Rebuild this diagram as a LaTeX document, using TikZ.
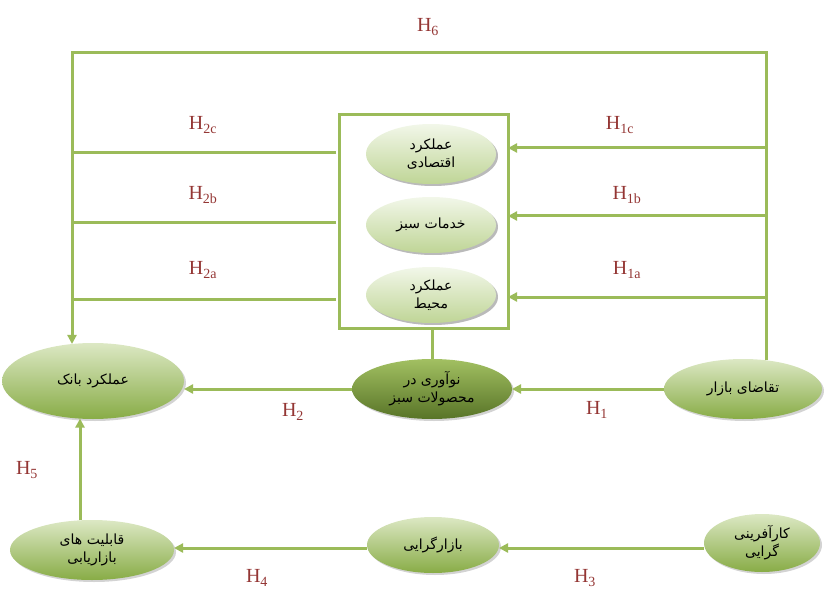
\documentclass[tikz,border=0pt]{standalone}
\usepackage{fontspec}
\setmainfont{Liberation Serif}
\newfontfamily\fa[Script=Arabic]{DejaVu Sans}
\TeXXeTstate=1
\usetikzlibrary{shapes.geometric,shadows,arrows.meta}

\definecolor{linkgreen}{HTML}{9BBB59}
\definecolor{hypred}{HTML}{943634}
\definecolor{ovtop}{HTML}{DCE8C4}
\definecolor{ovmid}{HTML}{B5CF82}
\definecolor{ovbot}{HTML}{88AC46}
\definecolor{dktop}{HTML}{A2C062}
\definecolor{dkmid}{HTML}{82A243}
\definecolor{dkbot}{HTML}{587427}
\definecolor{ltop}{HTML}{F2F7E9}
\definecolor{lmid}{HTML}{DEEAC8}
\definecolor{lbot}{HTML}{BFD596}

\tikzset{
  link/.style={draw=linkgreen, line width=3pt, line join=miter},
  arr/.style={link, -{Triangle[length=9pt,width=9pt]}},
  oval/.style={ellipse, inner sep=0pt, outer sep=0pt, align=center,
    top color=ovtop, middle color=ovmid, bottom color=ovbot,
    drop shadow={opacity=0.35, shadow xshift=2pt, shadow yshift=-2pt},
    font=\fa\fontsize{14}{18}\selectfont},
  darkoval/.style={oval, top color=dktop, middle color=dkmid, bottom color=dkbot},
  lightoval/.style={oval, top color=ltop, middle color=lmid, bottom color=lbot,
    drop shadow={opacity=0.3, shadow xshift=2pt, shadow yshift=-2pt}},
  hyp/.style={text=hypred, inner sep=0pt, font=\fontsize{20}{22}\selectfont},
  group/.style={draw=linkgreen, line width=3pt, inner sep=0pt, outer sep=0pt}
}

\begin{document}
\begin{tikzpicture}[x=1pt,y=1pt]
\useasboundingbox (0,0) rectangle (824,590);

% grouping box with the three green performance dimensions
\node[group, minimum width=169pt, minimum height=213pt] (box) at (423.5,368.5) {};
\node[lightoval, minimum width=130pt, minimum height=60pt] (econ) at (431,436)
  {\beginR عملکرد\endR\\\beginR اقتصادی\endR};
\node[lightoval, minimum width=130pt, minimum height=56pt] (serv) at (431,365)
  {\beginR خدمات سبز\endR};
\node[lightoval, minimum width=130pt, minimum height=56pt] (envi) at (431,295)
  {\beginR عملکرد\endR\\\beginR محیط\endR};

% main constructs
\node[oval, minimum width=182pt, minimum height=76pt] (bank) at (93,209)
  {\beginR عملکرد بانک\endR};
\node[darkoval, minimum width=160pt, minimum height=60pt] (innov) at (432,201)
  {\beginR نوآوری در\endR\\\beginR محصولات سبز\endR};
\node[oval, minimum width=158pt, minimum height=60pt] (market) at (743,201)
  {\beginR تقاضای بازار\endR};
\node[oval, minimum width=164pt, minimum height=60pt] (cap) at (92,40)
  {\beginR قابلیت های\endR\\\beginR بازاریابی\endR};
\node[oval, minimum width=132pt, minimum height=56pt] (mkt) at (433,45)
  {\beginR بازارگرایی\endR};
\node[oval, minimum width=116pt, minimum height=58pt] (entre) at (762,47)
  {\beginR کارآفرینی\endR\\\beginR گرایی\endR};

% corners and branch points of the outer frame
\coordinate (tl) at (72,537);
\coordinate (tr) at (766,537);
\coordinate (r1c) at (766,442);
\coordinate (r1b) at (766,374);
\coordinate (r1a) at (766,293);
\coordinate (l2c) at (70.5,437);
\coordinate (l2b) at (70.5,367);
\coordinate (l2a) at (70.5,291);

% H6 frame: market demand -> bank performance
\draw[arr] (tr |- market.51.3) -- (tr) -- (tl) -- (tl |- bank.119.6);

% H1a-H1c branches into the box
\draw[arr] (r1c) -- (box.east |- r1c);
\draw[arr] (r1b) -- (box.east |- r1b);
\draw[arr] (r1a) -- (box.east |- r1a);

% H2a-H2c branches out of the box
\draw[link] ([xshift=-3pt]box.west |- l2c) -- (l2c);
\draw[link] ([xshift=-3pt]box.west |- l2b) -- (l2b);
\draw[link] ([xshift=-3pt]box.west |- l2a) -- (l2a);

% box tied to green product innovation
\draw[link] (innov.north |- box.south) -- (innov.north);

% main chain
\draw[arr] (market.west) -- (innov.east);
\draw[arr] (innov.west) -- (innov.west -| bank.east);
\draw[arr] (entre.west |- 0,42) -- (mkt.east |- 0,42);
\draw[arr] (mkt.west |- 0,42) -- (cap.east |- 0,42);
\draw[arr] (cap.112) -- (cap.112 |- bank.250.9);

% hypothesis labels
\node[hyp] (h6) at (428,563) {H\textsubscript{6}};
\node[hyp] (h2c) at (203,465) {H\textsubscript{2c}};
\node[hyp] (h2b) at (203,395) {H\textsubscript{2b}};
\node[hyp] (h2a) at (203,320) {H\textsubscript{2a}};
\node[hyp] (h1c) at (620,465) {H\textsubscript{1c}};
\node[hyp] (h1b) at (627,395) {H\textsubscript{1b}};
\node[hyp] (h1a) at (627,320) {H\textsubscript{1a}};
\node[hyp] (h2) at (293,178) {H\textsubscript{2}};
\node[hyp] (h1) at (597,180) {H\textsubscript{1}};
\node[hyp] (h5) at (27,120) {H\textsubscript{5}};
\node[hyp] (h4) at (257,12) {H\textsubscript{4}};
\node[hyp] (h3) at (585,12) {H\textsubscript{3}};
\end{tikzpicture}
\end{document}
